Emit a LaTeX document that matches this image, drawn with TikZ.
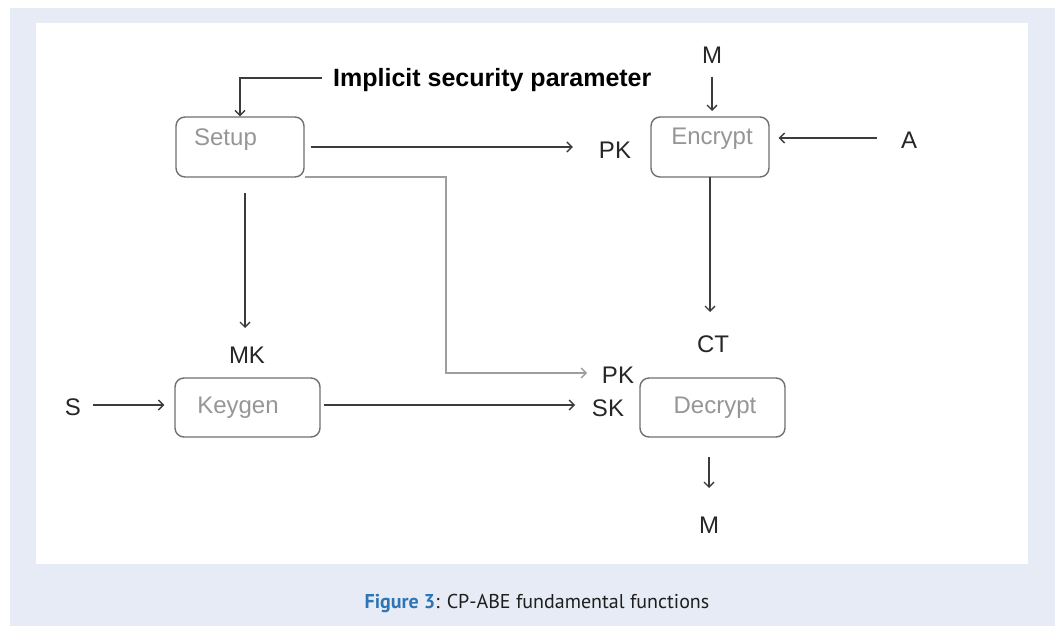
\documentclass[tikz,border=0pt]{standalone}
\usepackage{fontspec}
\setmainfont{Liberation Sans}
\newfontfamily\capfont{PT Sans}
\usetikzlibrary{arrows.meta}
\definecolor{bgblue}{RGB}{231,235,246}
\definecolor{capblue}{RGB}{46,117,182}
\definecolor{boxline}{RGB}{112,112,112}
\definecolor{boxtext}{RGB}{150,150,150}
\definecolor{arrline}{RGB}{60,60,60}
\definecolor{greyline}{RGB}{158,158,158}
\definecolor{captext}{RGB}{30,30,30}
\tikzset{
  box/.style={draw=boxline, line width=1.4pt, rounded corners=9pt, inner sep=0pt},
  boxlbl/.style={text=boxtext, font=\fontsize{24}{28}\selectfont, inner sep=0pt, anchor=center},
  lbl/.style={text=black!85, font=\fontsize{24}{28}\selectfont, inner sep=0pt, anchor=center},
  arr/.style={draw=arrline, line width=1.3pt, -{Straight Barb[length=5pt,width=10pt,line width=1.3pt]}},
  garr/.style={draw=greyline, line width=1.4pt, -{Straight Barb[length=5pt,width=10pt,line width=1.3pt]}}
}
\begin{document}
\begin{tikzpicture}[x=1pt,y=-1pt]
\useasboundingbox (0,0) rectangle (1055,626);
\fill[white] (0,0) rectangle (1055,626);
\fill[bgblue] (10,8) rectangle (1055,626);
\fill[white] (36,23) rectangle (1028,564);

% boxes
\node[box, minimum width=128pt, minimum height=60pt] (setup) at (240,147) {};
\node[boxlbl] (setupT) at (225.5,140) {Setup};
\node[box, minimum width=118pt, minimum height=60pt] (encrypt) at (710,147) {};
\node[boxlbl] (encryptT) at (712,139) {Encrypt};
\node[box, minimum width=145pt, minimum height=59pt] (keygen) at (247.5,407.5) {};
\node[boxlbl] (keygenT) at (238,408) {Keygen};
\node[box, minimum width=145pt, minimum height=59pt] (decrypt) at (712.5,407.5) {};
\node[boxlbl] (decryptT) at (715,408) {Decrypt};

% labels
\node[lbl, font=\fontsize{25}{29}\selectfont\bfseries, anchor=west, text=black] (impl) at (333,80) {Implicit security parameter};
\node[lbl] (pk1) at (615,150) {PK};
\node[lbl] (m1) at (712,55) {M};
\node[lbl] (a) at (909,140) {A};
\node[lbl] (ct) at (713,344) {CT};
\node[lbl] (mk) at (247,355) {MK};
\node[lbl] (s) at (73,407) {S};
\node[lbl] (pk2) at (618,375) {PK};
\node[lbl] (sk) at (608,408) {SK};
\node[lbl] (m2) at (709,525) {M};

% coordinates
\coordinate (implEnd) at (322,78);
\coordinate (mStart) at (712,77);
\coordinate (mEnd) at (712,111);
\coordinate (grA) at (305,177);
\coordinate (grB) at (446,177);
\coordinate (grC) at (446,373);
\coordinate (grD) at (587,373);

% connectors
\draw[arr] (implEnd) -| (setup.north);
\draw[arr] ([xshift=6pt]setup.east) -- ([xshift=-26pt]pk1.west |- setup.east);
\draw[arr] (mStart) -- (mEnd);
\draw[arr] ([xshift=-24pt]a.west |- 0,138) -- ([xshift=9pt]encrypt.east |- 0,138);
\draw[arr] (710,177) -- (710,312);
\draw[arr] (245,193) -- (245,328);
\draw[arr] (93,405) -- ([xshift=-10pt]keygen.west |- 0,405);
\draw[arr] ([xshift=3pt]keygen.east |- 0,405) -- (575,405);
\draw[garr] (grA) -- (grB) -- (grC) -- (grD);
\draw[arr] (709,457) -- (709,488);

% caption
\node[inner sep=0pt, anchor=base, font=\capfont\fontsize{20}{23}\selectfont, text=captext] (cap) at (537,608) {{\color{capblue}\bfseries Figure 3}: CP-ABE fundamental functions};
\end{tikzpicture}
\end{document}
